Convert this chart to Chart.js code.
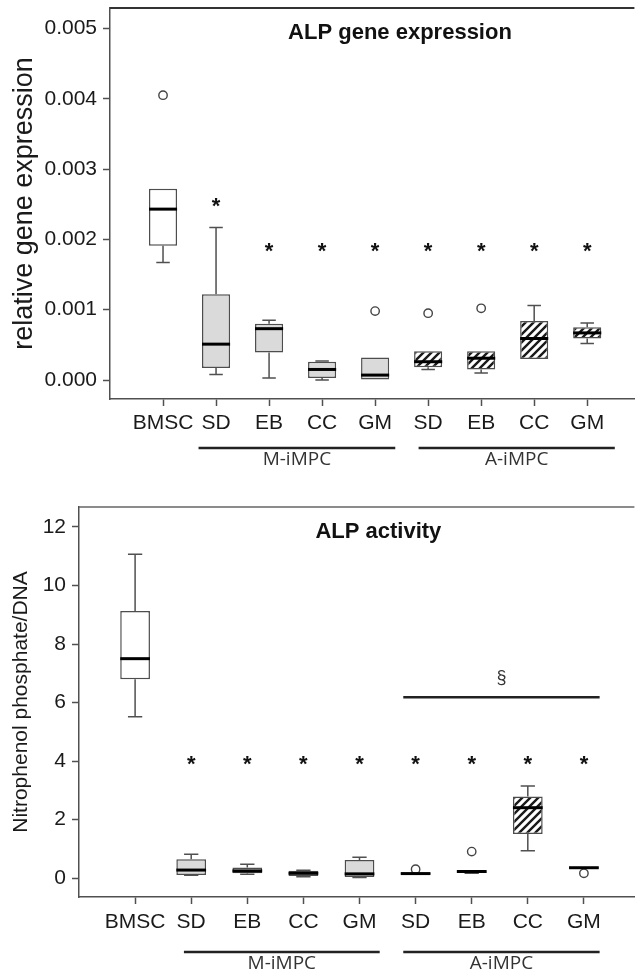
<!DOCTYPE html>
<html>
<head>
<meta charset="utf-8">
<title>ALP gene expression and activity</title>
<script src="https://cdn.jsdelivr.net/npm/chart.js@4.4.1/dist/chart.umd.min.js"></script>
<style>
    html, body { margin: 0; padding: 0; background: #fff; }
    #wrap { position: relative; width: 640px; height: 973px; overflow: hidden; }
    canvas { position: absolute; left: 0; }
    #geneChart { top: 0; }
    #activityChart { top: 480px; }
</style>
</head>
<body>
<div id="wrap">
    <canvas id="geneChart" width="640" height="480"></canvas>
    <canvas id="activityChart" width="640" height="493"></canvas>
</div>
<script>
// --- DATA ---
const categories = ['BMSC', 'SD', 'EB', 'CC', 'GM', 'SD', 'EB', 'CC', 'GM'];
const cellSource = ['BMSC', 'M', 'M', 'M', 'M', 'A', 'A', 'A', 'A'];
const groupNames = ['M-iMPC', 'A-iMPC'];

// ALP gene expression (relative)
const geneMin    = [0.00167, 0.00008, 0.00003, 0.00000, 0.00000, 0.00015, 0.00010, 0.00030, 0.00052];
const geneQ1     = [0.00191, 0.00017, 0.00039, 0.00003, 0.00000, 0.00018, 0.00015, 0.00030, 0.00059];
const geneMedian = [0.00243, 0.00051, 0.00073, 0.00015, 0.00007, 0.00026, 0.00031, 0.00059, 0.00067];
const geneQ3     = [0.00272, 0.00122, 0.00080, 0.00026, 0.00032, 0.00041, 0.00041, 0.00084, 0.00075];
const geneMax    = [0.00272, 0.00217, 0.00085, 0.00027, 0.00032, 0.00041, 0.00041, 0.00106, 0.00081];
const geneOutlierCat = [0, 4, 5, 6];
const geneOutlierVal = [0.00405, 0.00098, 0.00095, 0.00102];
const geneStars = [null, 0.00251, 0.00187, 0.00187, 0.00187, 0.00187, 0.00187, 0.00187, 0.00187];
const geneTicks = [0, 0.001, 0.002, 0.003, 0.004, 0.005];
const geneTickLabels = ['0.000', '0.001', '0.002', '0.003', '0.004', '0.005'];
const geneGroupSpans = [[0.67, 4.38], [4.82, 8.52]];

// ALP activity (nitrophenol phosphate / DNA)
const actMin    = [5.52, 0.10, 0.14, 0.05, 0.03, 0.14, 0.17, 0.94, 0.34];
const actQ1     = [6.80, 0.11, 0.17, 0.08, 0.04, 0.14, 0.18, 1.51, 0.34];
const actMedian = [7.50, 0.28, 0.25, 0.17, 0.15, 0.16, 0.23, 2.41, 0.36];
const actQ3     = [9.13, 0.65, 0.37, 0.26, 0.62, 0.18, 0.27, 2.79, 0.38];
const actMax    = [11.07, 0.82, 0.48, 0.27, 0.72, 0.18, 0.27, 3.15, 0.38];
const actOutlierCat = [5, 6, 8];
const actOutlierVal = [0.31, 0.91, 0.17];
const actStars = [null, 4.0, 4.0, 4.0, 4.0, 4.0, 4.0, 4.0, 4.0];
const actTicks = [0, 2, 4, 6, 8, 10, 12];
const actTickLabels = ['0', '2', '4', '6', '8', '10', '12'];
const actGroupSpans = [[0.87, 4.36], [4.78, 8.28]];
const actSectionSpan = [4.78, 8.28];
const actSectionVal = 6.18;

// --- STYLE ---
const FONT = "'Liberation Sans', Arial, Helvetica, sans-serif";
const LINE = '#505050';
const TEXT = '#1a1a1a';

function makeHatch() {
    const c = document.createElement('canvas');
    c.width = 8; c.height = 8;
    const g = c.getContext('2d');
    g.fillStyle = '#fff';
    g.fillRect(0, 0, 8, 8);
    g.strokeStyle = '#1a1a1a';
    g.lineWidth = 2.4;
    g.beginPath();
    g.moveTo(-2, 10); g.lineTo(10, -2);
    g.moveTo(-2, 2); g.lineTo(2, -2);
    g.moveTo(6, 10); g.lineTo(10, 6);
    g.stroke();
    return g.createPattern(c, 'repeat');
}

// whiskers, medians, stars, titles and group bars drawn on top of the boxes
function boxPlotExtras(spec) {
    return {
        id: 'boxPlotExtras',
        afterDatasetsDraw(chart) {
            const { ctx, scales: { x, y } } = chart;
            const bars = chart.getDatasetMeta(0).data;
            ctx.save();
            ctx.strokeStyle = LINE;
            ctx.lineWidth = 1.5;
            spec.q1.forEach((q1, i) => {
                const cx = x.getPixelForValue(i);
                const cap = bars[i].width * 0.24;
                [[spec.q3[i], spec.max[i]], [q1, spec.min[i]]].forEach(([from, to]) => {
                    if (from === to) return;
                    const p0 = y.getPixelForValue(from), p1 = y.getPixelForValue(to);
                    ctx.beginPath();
                    ctx.moveTo(cx, p0); ctx.lineTo(cx, p1);
                    ctx.moveTo(cx - cap, p1); ctx.lineTo(cx + cap, p1);
                    ctx.stroke();
                });
            });
            ctx.strokeStyle = '#000';
            ctx.lineWidth = 3;
            spec.median.forEach((m, i) => {
                const cx = x.getPixelForValue(i);
                const half = bars[i].width / 2;
                const py = y.getPixelForValue(m);
                ctx.beginPath();
                ctx.moveTo(cx - half, py); ctx.lineTo(cx + half, py);
                ctx.stroke();
            });
            ctx.restore();
        },
        afterDraw(chart) {
            const { ctx, chartArea: area, scales: { x, y } } = chart;
            ctx.save();
            // frame top edge
            ctx.strokeStyle = spec.frameColor;
            ctx.lineWidth = spec.frameWidth;
            ctx.beginPath();
            ctx.moveTo(area.left, area.top); ctx.lineTo(area.right, area.top);
            ctx.stroke();

            // panel title
            ctx.fillStyle = '#111';
            ctx.font = 'bold 22px ' + FONT;
            ctx.textAlign = 'center';
            ctx.textBaseline = 'middle';
            ctx.fillText(spec.title, area.left + area.width * spec.titleX, area.top + spec.titleDy);

            // significance stars
            ctx.font = 'bold 22px ' + FONT;
            ctx.textBaseline = 'alphabetic';
            spec.stars.forEach((v, i) => {
                if (v === null) return;
                ctx.fillText('*', x.getPixelForValue(i), y.getPixelForValue(v) + 9.5);
            });

            // section sign bar
            if (spec.section) {
                const py = y.getPixelForValue(spec.section.value);
                const x0 = x.getPixelForValue(spec.section.span[0]);
                const x1 = x.getPixelForValue(spec.section.span[1]);
                ctx.strokeStyle = '#222';
                ctx.lineWidth = 2.5;
                ctx.beginPath();
                ctx.moveTo(x0, py); ctx.lineTo(x1, py);
                ctx.stroke();
                ctx.font = '18px ' + FONT;
                ctx.fillStyle = '#333';
                ctx.textBaseline = 'middle';
                ctx.fillText('\u00a7', (x0 + x1) / 2, py - 19);
            }

            // cell-source group bars under the axis
            ctx.strokeStyle = '#222';
            ctx.lineWidth = 2.5;
            ctx.fillStyle = '#333';
            ctx.font = "19px 'Open Sans', " + FONT;
            ctx.textBaseline = 'middle';
            const ly = area.bottom + spec.groupDy;
            spec.groupSpans.forEach((span, k) => {
                const x0 = x.getPixelForValue(span[0]);
                const x1 = x.getPixelForValue(span[1]);
                ctx.beginPath();
                ctx.moveTo(x0, ly); ctx.lineTo(x1, ly);
                ctx.stroke();
                ctx.fillText(groupNames[k], (x0 + x1) / 2, ly + 12);
            });
            ctx.restore();
        }
    };
}

function buildBoxChart(canvasId, spec) {
    const hatch = makeHatch();
    const fills = cellSource.map(s => s === 'M' ? '#dadada' : (s === 'A' ? hatch : '#ffffff'));
    return new Chart(document.getElementById(canvasId), {
        type: 'bar',
        data: {
            datasets: [
                {
                    label: 'IQR',
                    data: categories.map((c, i) => ({ x: i, y: [spec.q1[i], spec.q3[i]] })),
                    backgroundColor: fills,
                    borderColor: '#4d4d4d',
                    borderWidth: 1.5,
                    borderSkipped: false,
                    barPercentage: 0.53,
                    categoryPercentage: 1
                },
                {
                    type: 'scatter',
                    label: 'outliers',
                    data: spec.outlierCat.map((c, k) => ({ x: c, y: spec.outlierVal[k] })),
                    pointStyle: 'circle',
                    pointRadius: 4.2,
                    backgroundColor: '#fff',
                    borderColor: '#444',
                    borderWidth: 1.4
                }
            ]
        },
        options: {
            responsive: false,
            animation: false,
            layout: { padding: { top: spec.padTop, left: 0, right: 0, bottom: 0 } },
            plugins: { legend: { display: false }, tooltip: { enabled: false } },
            scales: {
                x: {
                    type: 'linear',
                    min: -1,
                    max: spec.xMax,
                    offset: false,
                    afterBuildTicks: s => { s.ticks = categories.map((c, i) => ({ value: i })); },
                    afterFit: s => { s.height = spec.xAxisHeight; s.paddingLeft = 0; s.paddingRight = 0; },
                    ticks: {
                        autoSkip: false, maxRotation: 0, padding: spec.xTickPad, color: TEXT,
                        font: { family: FONT, size: 21 },
                        callback: (v, i) => categories[i]
                    },
                    grid: { drawOnChartArea: false, offset: false, tickLength: 7, tickColor: LINE, tickWidth: 1.5 },
                    border: { color: LINE, width: 1.5 }
                },
                y: {
                    type: 'linear',
                    min: spec.yMin,
                    max: spec.yMax,
                    afterBuildTicks: s => { s.ticks = spec.ticks.map(v => ({ value: v })); },
                    afterFit: s => { s.width = spec.yAxisWidth; s.paddingTop = 0; s.paddingBottom = 0; },
                    ticks: {
                        padding: 6, color: TEXT,
                        font: { family: FONT, size: 21 },
                        callback: (v, i) => spec.tickLabels[i]
                    },
                    grid: { drawOnChartArea: false, tickLength: 7, tickColor: LINE, tickWidth: 1.5 },
                    border: { color: LINE, width: 1.5 },
                    title: {
                        display: true, text: spec.yTitle, color: TEXT,
                        font: { family: FONT, size: spec.yTitleSize, lineHeight: 1 },
                        padding: { top: spec.yTitlePad, bottom: 0 }
                    }
                }
            }
        },
        plugins: [boxPlotExtras(spec)]
    });
}

document.addEventListener('DOMContentLoaded', function() {
    buildBoxChart('geneChart', {
        q1: geneQ1, q3: geneQ3, median: geneMedian, min: geneMin, max: geneMax,
        outlierCat: geneOutlierCat, outlierVal: geneOutlierVal,
        stars: geneStars, ticks: geneTicks, tickLabels: geneTickLabels, groupSpans: geneGroupSpans,
        title: 'ALP gene expression', titleX: 0.553, titleDy: 25,
        yTitle: 'relative gene expression', yTitleSize: 27, yTitlePad: 11.5,
        yMin: -0.00027, yMax: 0.00529, xMax: 8.89,
        padTop: 8, xAxisHeight: 81, yAxisWidth: 110, xTickPad: 5, groupDy: 49,
        frameColor: '#333', frameWidth: 2
    });
    buildBoxChart('activityChart', {
        q1: actQ1, q3: actQ3, median: actMedian, min: actMin, max: actMax,
        outlierCat: actOutlierCat, outlierVal: actOutlierVal,
        stars: actStars, ticks: actTicks, tickLabels: actTickLabels, groupSpans: actGroupSpans,
        section: { span: actSectionSpan, value: actSectionVal },
        title: 'ALP activity', titleX: 0.539, titleDy: 25,
        yTitle: 'Nitrophenol phosphate/DNA', yTitleSize: 21, yTitlePad: 11,
        yMin: -0.64, yMax: 12.68, xMax: 8.9,
        padTop: 27, xAxisHeight: 76, yAxisWidth: 79, xTickPad: 6, groupDy: 55,
        frameColor: '#666', frameWidth: 1.5
    });
});
</script>
</body>
</html>
